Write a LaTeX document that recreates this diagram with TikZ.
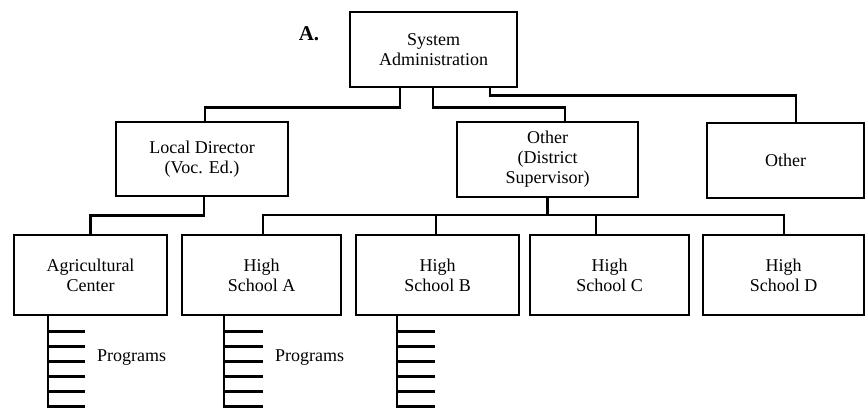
\documentclass[tikz,border=0pt]{standalone}
\usepackage{fontspec}
\setmainfont{Liberation Serif}
\begin{document}
\begin{tikzpicture}[x=1pt,y=-1pt,
  ln/.style={line width=2.5pt},
  orgbox/.style={draw, line width=2.6pt, rectangle, align=center, inner sep=0pt,
     font=\fontsize{18}{20}\selectfont},
  lbl/.style={font=\fontsize{18}{20}\selectfont, inner sep=0pt}]
\useasboundingbox (0,0) rectangle (866,408);
% top
\node[orgbox, minimum width=167pt, minimum height=75pt] (sys) at (433.5,49.5) {System\\Administration};
\node[font=\bfseries\fontsize{21}{22}\selectfont, inner sep=0pt] (A) at (309,34) {A.};
% level 2
\node[orgbox, minimum width=172pt, minimum height=74pt] (ld) at (202,159) {Local Director\\(Voc. Ed.)};
\node[orgbox, minimum width=181pt, minimum height=75pt] (dist) at (547.5,159.5) {Other\\(District\\Supervisor)};
\node[orgbox, minimum width=157pt, minimum height=75pt] (oth) at (785.5,160.5) {Other};
% level 3
\node[orgbox, minimum width=153pt, minimum height=80pt] (agri) at (90.5,275) {Agricultural\\Center};
\node[orgbox, minimum width=159pt, minimum height=80pt] (hsa) at (261.5,275) {High\\School A};
\node[orgbox, minimum width=163pt, minimum height=80pt] (hsb) at (437.5,275) {High\\School B};
\node[orgbox, minimum width=159pt, minimum height=80pt] (hsc) at (609.5,275) {High\\School C};
\node[orgbox, minimum width=161pt, minimum height=80pt] (hsd) at (783.5,275) {High\\School D};
% connectors from system administration
\draw[ln] ([xshift=-33.5pt]sys.south) -- ++(0,19) -| ([xshift=3pt]ld.north);
\draw[ln] ([xshift=-0.5pt]sys.south) -- ++(0,19) -| ([xshift=17.5pt]dist.north);
\draw[ln] ([xshift=56.5pt]sys.south) -- ++(0,7) -| ([xshift=10.5pt]oth.north);
% local director to agricultural center
\draw[ln] ([xshift=2pt]ld.south) -- ++(0,18) -| (agri.north);
% district supervisor bus
\coordinate (busy) at (0,215);
\draw[ln] ([xshift=1.5pt]hsa.north) -- ([xshift=1.5pt]hsa.north |- busy) -| ([xshift=0.5pt]hsd.north);
\draw[ln] (dist.south) -- (dist.south |- busy);
\draw[ln] ([xshift=-1.5pt]hsb.north) -- ([xshift=-1.5pt]hsb.north |- busy);
\draw[ln] ([xshift=-13.5pt]hsc.north) -- ([xshift=-13.5pt]hsc.north |- busy);
% programs
\draw[ln] ([xshift=-42.5pt]agri.south) coordinate (pa) -- ++(0,90) -- ++(37,0);
\foreach \d in {15,30,45,60,75} \draw[ln] ([yshift=-\d pt]pa) -- ++(37,0);
\draw[ln] ([xshift=-37.5pt]hsa.south) coordinate (pb) -- ++(0,90) -- ++(39,0);
\foreach \d in {15,30,45,60,75} \draw[ln] ([yshift=-\d pt]pb) -- ++(39,0);
\draw[ln] ([xshift=-40.5pt]hsb.south) coordinate (pc) -- ++(0,90) -- ++(38,0);
\foreach \d in {15,30,45,60,75} \draw[ln] ([yshift=-\d pt]pc) -- ++(38,0);
\node[lbl, anchor=west] (pgA) at (97,358) {Programs};
\node[lbl, anchor=west] (pgB) at (275,358) {Programs};
\end{tikzpicture}
\end{document}
